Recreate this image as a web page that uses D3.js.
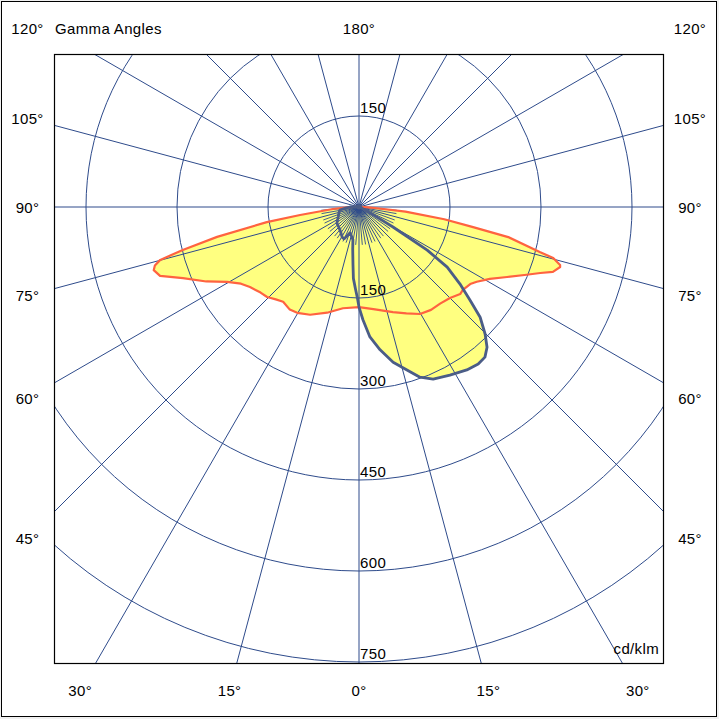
<!DOCTYPE html>
<html>
<head>
<meta charset="utf-8">
<script src="https://cdn.jsdelivr.net/npm/d3@7"></script>
<style>
  html,body{margin:0;padding:0;background:#ffffff;}
  svg{display:block;}
  text{font-family:"Liberation Sans",Arial,sans-serif;font-size:15px;fill:#000;letter-spacing:0.35px;}
</style>
</head>
<body>
<svg id="chart" width="719" height="719"></svg>
<script>
// ---------------- data (cd/klm, gamma angles in degrees; 0 = straight down, negative = left) ----------------
const ringValues = [150, 300, 450, 600, 750];
const topRingLabel = "150";
const gridGammas = d3.range(-165, 181, 15);          // main radial lines
const fineGammas = d3.range(-85, 86, 5).filter(g => g % 15 !== 0); // short spokes near centre
const sideGammas = [105, 90, 75, 60, 45];
const bottomGammas = [-30, -15, 0, 15, 30];
const unitLabel = "cd/klm";
const titleLabel = "Gamma Angles";

// C0 - C180 plane (orange curve)
const c0Angles = [-92, -90, -88, -85.6, -82.3, -80.7, -78.1, -76.3, -75.1, -74, -72.9, -70.9, -68, -64, -60.4,
                  -57, -53.7, -49, -45.6, -42, -38.7, -34, -30.3, -24.4, -16.8, -9, 0,
                  8, 17.9, 24, 29.7, 35, 40, 45, 49.3, 51.4, 55.3, 57.6, 61.2, 64.7, 68, 70, 71.5, 73.4, 73.9,
                  75.3, 76, 78.6, 80, 81.8, 84.3, 86, 88, 90, 92];
const c0Values = [5, 10, 20, 43, 98, 154, 239, 299, 339, 350, 354, 347, 313, 280, 250,
                  232, 223, 215, 212, 205, 200, 204, 202, 195, 182, 169, 165,
                  170, 182, 192, 203, 207, 208, 212, 220, 219, 223, 230, 246, 270, 298, 318, 337, 346, 345,
                  331, 307, 251, 191, 142, 77, 30, 15, 8, 4];

// C90 - C270 plane (grey curve)
const c90Angles = [-95, -90, -85, -81, -72, -64.5, -54, -45, -38, -33.7, -29, -25, -19, -14, -10.5, -8.5, -6,
                   -4.5, -2.5, -1, 0, 2, 4.8, 8.4, 12.4, 16.4, 19.7, 23.3, 28.4, 33.5, 37.2, 40, 42.4, 44.8,
                   47.7, 50, 52.7, 55.7, 57.7, 59.5, 61, 63, 70, 90];
const c90Values = [5, 15, 22, 32, 35, 38, 45, 47, 50, 53, 57, 58, 45, 50, 55, 70, 95,
                   118, 135, 150, 165, 186, 215, 238, 262, 280, 298, 309, 315, 322, 325, 323, 313, 295,
                   270, 239, 209, 176, 133, 65, 30, 10, 5, 3];

// ---------------- drawing ----------------
const W = 719, H = 719;
const cx = 359, cy = 207;
const box = {x0: 54.5, y0: 54.5, x1: 663.5, y1: 663.5};
const gridColor = "#2e4b8b";
const fillColor = "#ffff80";
const c0Color = "#ff6340";
const c90Color = "#4b5d87";

const svg = d3.select("#chart");
const r = d3.scaleLinear().domain([0, 750]).range([0, 455]);
const rad = g => g * Math.PI / 180;
// d3 radial angle: 0 = up, clockwise; gamma 0 = down
const radialAngle = g => Math.PI - rad(g);

svg.append("rect").attr("x", 0).attr("y", 0).attr("width", W).attr("height", H).attr("fill", "#f0f0f0");
svg.append("rect").attr("x", 1.5).attr("y", 1.5).attr("width", 715).attr("height", 715)
   .attr("fill", "#fff").attr("stroke", "#000").attr("stroke-width", 1);

svg.append("defs").append("clipPath").attr("id", "plotClip")
   .append("rect").attr("x", box.x0).attr("y", box.y0)
   .attr("width", box.x1 - box.x0).attr("height", box.y1 - box.y0);

const plot = svg.append("g").attr("clip-path", "url(#plotClip)");
const centre = plot.append("g").attr("transform", `translate(${cx},${cy})`);

const c0Data = d3.zip(c0Angles, c0Values);
const c90Data = d3.zip(c90Angles, c90Values);

const radial = d3.lineRadial()
  .angle(d => radialAngle(d[0]))
  .radius(d => r(d[1]))
  .curve(d3.curveLinearClosed);

const closeAtCentre = data => data.concat([[180, 0]]);

// fills
centre.append("path").attr("d", radial(closeAtCentre(c0Data))).attr("fill", fillColor).attr("stroke", "none");
centre.append("path").attr("d", radial(closeAtCentre(c90Data))).attr("fill", fillColor).attr("stroke", "none");

// grid circles
centre.selectAll("circle.ring").data(ringValues).join("circle")
  .attr("class", "ring").attr("r", d => r(d))
  .attr("fill", "none").attr("stroke", gridColor).attr("stroke-width", 1);

// radial lines
centre.selectAll("line.spoke").data(gridGammas).join("line")
  .attr("class", "spoke")
  .attr("x1", 0).attr("y1", 0)
  .attr("x2", d => 1000 * Math.sin(rad(d)))
  .attr("y2", d => 1000 * Math.cos(rad(d)))
  .attr("stroke", gridColor).attr("stroke-width", 1);

centre.selectAll("line.fine").data(fineGammas).join("line")
  .attr("class", "fine")
  .attr("x1", 0).attr("y1", 0)
  .attr("x2", d => 38 * Math.sin(rad(d)))
  .attr("y2", d => 38 * Math.cos(rad(d)))
  .attr("stroke", gridColor).attr("stroke-width", 0.9);

// outlines
centre.append("path").attr("d", radial(closeAtCentre(c0Data)))
  .attr("fill", "none").attr("stroke", c0Color).attr("stroke-width", 2.2).attr("stroke-linejoin", "round");
centre.append("path").attr("d", radial(closeAtCentre(c90Data)))
  .attr("fill", "none").attr("stroke", c90Color).attr("stroke-width", 2.8).attr("stroke-linejoin", "round");

centre.append("circle").attr("r", 2.5).attr("fill", c90Color);

// plot frame
svg.append("rect").attr("x", box.x0).attr("y", box.y0)
   .attr("width", box.x1 - box.x0).attr("height", box.y1 - box.y0)
   .attr("fill", "none").attr("stroke", "#000").attr("stroke-width", 1.2);

// ring labels
svg.append("text").attr("x", cx + 1).attr("y", cy - r(150) - 3).text(topRingLabel);
svg.selectAll("text.ringlab").data(ringValues).join("text")
  .attr("class", "ringlab")
  .attr("x", cx + 1).attr("y", d => cy + r(d) - 3)
  .text(d => String(d));

// angle labels
const sideDx = 331;
svg.selectAll("text.left").data(sideGammas).join("text")
  .attr("class", "left").attr("text-anchor", "middle")
  .attr("x", 27.5).attr("y", d => cy + sideDx * Math.cos(rad(d)) / Math.sin(rad(d)) + 5.5)
  .text(d => d + "°");
svg.selectAll("text.right").data(sideGammas).join("text")
  .attr("class", "right").attr("text-anchor", "middle")
  .attr("x", 690).attr("y", d => cy + sideDx * Math.cos(rad(d)) / Math.sin(rad(d)) + 5.5)
  .text(d => d + "°");
svg.selectAll("text.bottom").data(bottomGammas).join("text")
  .attr("class", "bottom").attr("text-anchor", "middle")
  .attr("x", d => cx + 483 * Math.tan(rad(d)))
  .attr("y", 695.5)
  .text(d => Math.abs(d) + "°");

svg.append("text").attr("x", 27.5).attr("y", 34).attr("text-anchor", "middle").text("120°");
svg.append("text").attr("x", 690).attr("y", 34).attr("text-anchor", "middle").text("120°");
svg.append("text").attr("x", cx).attr("y", 34).attr("text-anchor", "middle").text("180°");
svg.append("text").attr("x", 55).attr("y", 34).text(titleLabel);
svg.append("text").attr("x", 659).attr("y", 654).attr("text-anchor", "end").text(unitLabel);
</script>
</body>
</html>
